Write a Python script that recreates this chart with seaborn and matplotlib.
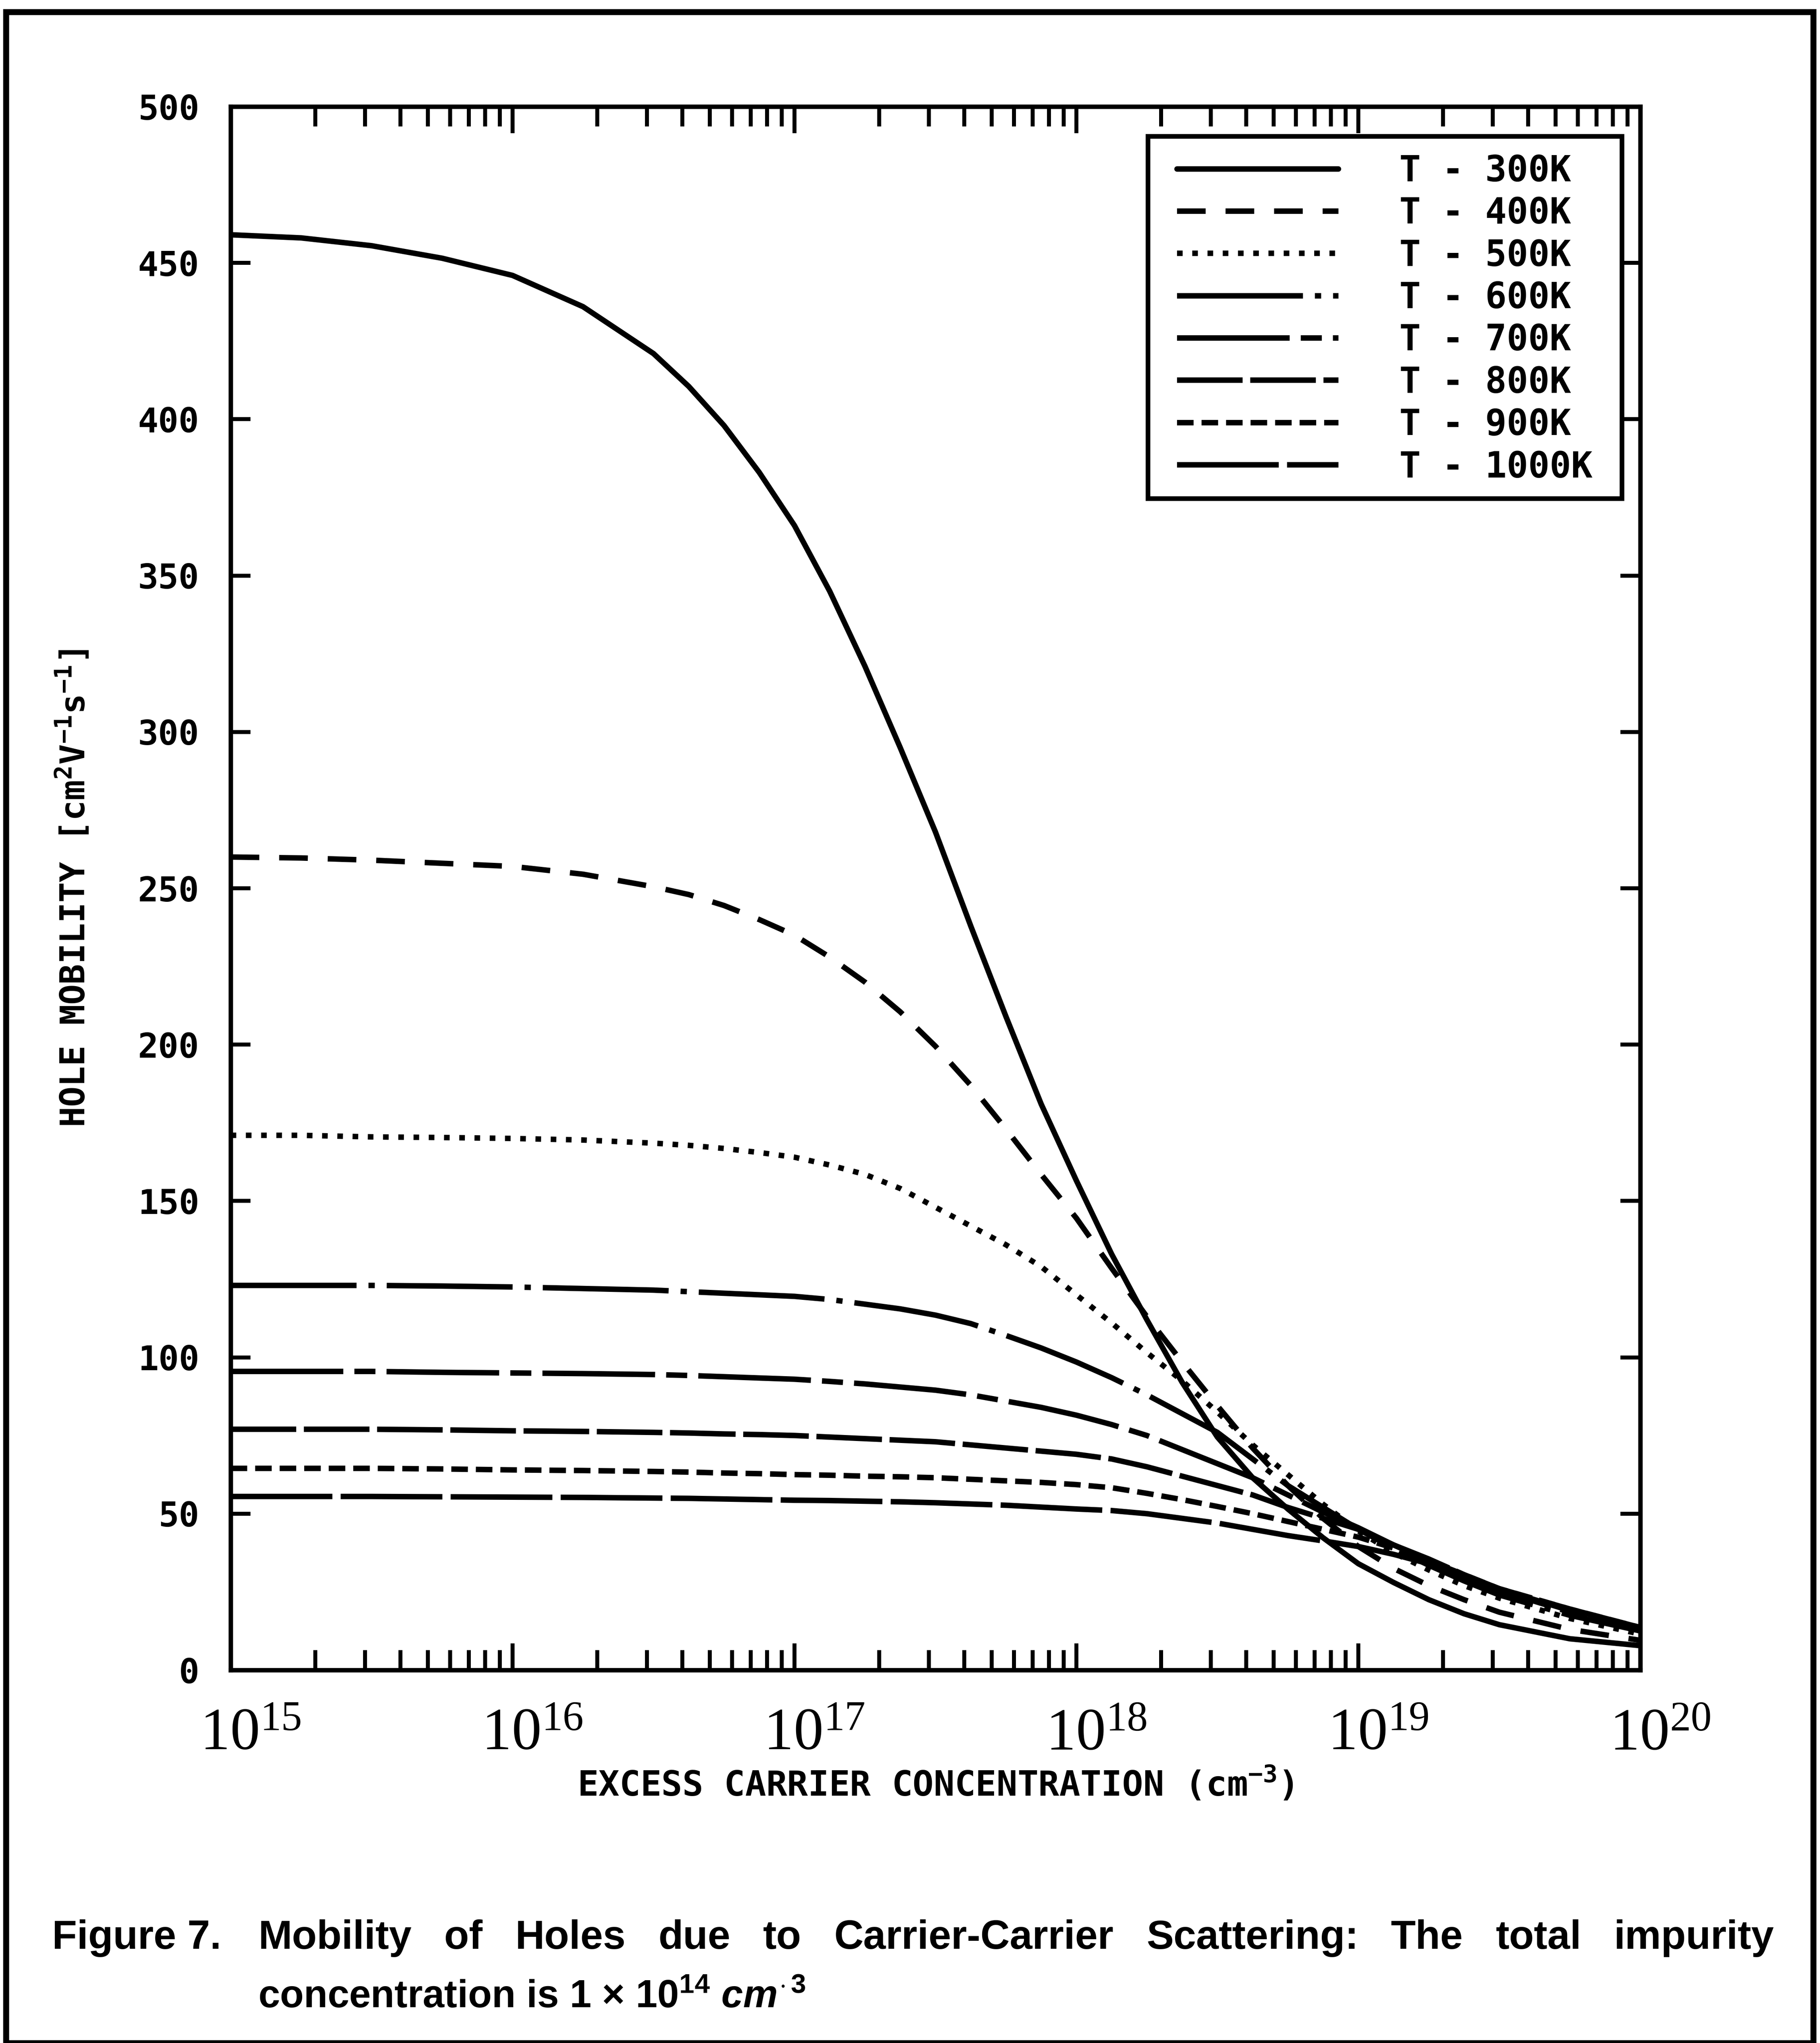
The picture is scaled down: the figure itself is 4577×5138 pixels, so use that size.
import numpy as np
import pandas as pd
import matplotlib
matplotlib.use("Agg")
import matplotlib.pyplot as plt
import matplotlib.ticker as mticker
from matplotlib.patches import Rectangle
from matplotlib.transforms import ScaledTranslation
import seaborn as sns

# exponent of the excess carrier concentration (cm^-3)
log_conc = [15.0, 15.25, 15.5, 15.75, 16.0, 16.25, 16.5, 16.625, 16.75, 16.875,
            17.0, 17.125, 17.25, 17.375, 17.5, 17.625, 17.75, 17.875, 18.0,
            18.125, 18.25, 18.375, 18.5, 18.625, 18.75, 18.875, 19.0, 19.125,
            19.25, 19.375, 19.5, 19.75, 20.0]

# hole mobility (cm^2 V^-1 s^-1) for each lattice temperature
mu_300 = [459, 458, 455.5, 451.5, 446, 436, 421, 410.5, 398, 383,
          366, 345, 321, 295, 268, 238, 209, 181, 156.5,
          133, 112, 92, 74.5, 61.5, 51.5, 42.3, 34, 28,
          22.5, 18, 14.5, 10, 7.8]
mu_400 = [260, 259.7, 259, 258, 257, 254.5, 250.5, 248, 244.5, 240,
          235, 228, 220, 210.5, 199.5, 187, 173, 158.5, 144.5,
          128.5, 113, 98.5, 84.5, 71, 59, 48.5, 39.5, 32.5,
          27, 22.5, 18.5, 13, 9.5]
mu_500 = [171, 171, 170.5, 170.3, 170, 169.5, 168.5, 167.8, 166.8, 165.5,
          164, 161.5, 158.5, 154, 148, 142, 136, 129, 120,
          111, 101.5, 92.5, 82.5, 72, 62.5, 53, 44.5, 37.5,
          32, 27, 23, 16.5, 11.5]
mu_600 = [123, 123, 123, 122.8, 122.5, 122, 121.5, 121, 120.5, 120,
          119.5, 118.5, 117, 115.5, 113.5, 110.8, 107, 103, 98.5,
          93.5, 88, 82, 76, 67.5, 59, 52, 45, 39,
          33.5, 28.5, 24, 17.5, 12.5]
mu_700 = [95.5, 95.5, 95.5, 95.2, 95, 94.8, 94.5, 94.2, 93.8, 93.4,
          93, 92.3, 91.5, 90.5, 89.5, 88, 86, 84, 81.5,
          78.5, 75, 70.5, 66, 61.5, 56, 50.5, 45.5, 40,
          35, 30, 25.5, 18.5, 13]
mu_800 = [77, 77, 77, 76.8, 76.5, 76.3, 76, 75.8, 75.5, 75.3,
          75, 74.5, 74, 73.5, 73, 72, 71, 70, 69,
          67.5, 65, 62, 59, 56, 52, 48.5, 45, 40,
          35.5, 30.5, 26, 19, 13.3]
mu_900 = [64.5, 64.5, 64.5, 64.3, 64, 63.8, 63.5, 63.3, 63, 62.8,
          62.5, 62.3, 62, 61.8, 61.5, 61, 60.5, 60, 59.3,
          58.3, 56.5, 54.5, 52.3, 50, 47.5, 45, 42.5, 39,
          35, 30.5, 26, 19.5, 13.6]
mu_1000 = [55.5, 55.5, 55.5, 55.4, 55.3, 55.2, 55, 54.9, 54.7, 54.5,
           54.3, 54.2, 54, 53.8, 53.5, 53.1, 52.7, 52.1, 51.5,
           51, 50, 48.5, 47, 45, 43, 41.3, 39.5, 37,
           34, 30, 26, 19.5, 13.6]

temperatures = ["300K", "400K", "500K", "600K", "700K", "800K", "900K", "1000K"]
series = [mu_300, mu_400, mu_500, mu_600, mu_700, mu_800, mu_900, mu_1000]

# plotter-style line patterns (on/off lengths in points)
patterns = {
    "300K": "-",
    "400K": (0, (17.3, 12.0)),
    "500K": (0, (3.4, 5.8)),
    "600K": (0, (76.0, 7.2, 3.8, 7.2)),
    "700K": (0, (68.0, 6.7, 12.7, 6.7)),
    "800K": (0, (39.6, 4.6)),
    "900K": (0, (10.0, 4.8)),
    "1000K": (0, (61.4, 5.0)),
}

x_decades = [15, 16, 17, 18, 19, 20]
y_ticks = [0, 50, 100, 150, 200, 250, 300, 350, 400, 450, 500]

rows = []
for temp, mu in zip(temperatures, series):
    for lg, m in zip(log_conc, mu):
        rows.append({"T": temp, "N": 10.0 ** lg, "mu": m})
df = pd.DataFrame(rows)

sns.set_theme(style="ticks")
mono = ["DejaVu Sans Mono", "DejaVu Sans"]
plt.rcParams.update({
    "font.family": mono,
    "font.weight": "bold",
    "lines.scale_dashes": False,
    "axes.linewidth": 2.7,
    "axes.edgecolor": "black",
    "axes.facecolor": "white",
    "figure.facecolor": "white",
    "text.color": "black",
    "axes.labelcolor": "black",
    "xtick.color": "black",
    "ytick.color": "black",
    "xtick.direction": "in",
    "ytick.direction": "in",
    "xtick.top": True,
    "ytick.right": True,
    "mathtext.fontset": "custom",
    "mathtext.rm": "Liberation Sans:bold",
    "mathtext.it": "Liberation Sans:italic",
    "mathtext.bf": "Liberation Sans:bold",
})

W, H, DPI = 4577, 5138, 300
fig = plt.figure(figsize=(W / DPI, H / DPI), dpi=DPI)
ax_left, ax_right, ax_top, ax_bottom = 580, 4125, 268, 4200
ax = fig.add_axes([ax_left / W, 1 - ax_bottom / H,
                   (ax_right - ax_left) / W, (ax_bottom - ax_top) / H])


def fig_xy(px, py):
    """Pixel position measured from the top-left corner -> figure fraction."""
    return px / W, 1 - py / H


for temp in temperatures:
    sub = df[df["T"] == temp]
    sns.lineplot(data=sub, x="N", y="mu", ax=ax, color="black",
                 linewidth=3.3, linestyle=patterns[temp],
                 label=f"T - {temp}", sort=True, estimator=None)

ax.set_xscale("log")
ax.set_xlim(1e15, 1e20)
ax.set_ylim(0, 500)

# ticks
ax.xaxis.set_major_locator(mticker.FixedLocator([10.0 ** d for d in x_decades]))
ax.xaxis.set_minor_locator(mticker.LogLocator(base=10, subs=np.arange(2, 10), numticks=50))
ax.xaxis.set_minor_formatter(mticker.NullFormatter())
ax.set_xticklabels([rf"$\mathregular{{10^{{{d}}}}}$" for d in x_decades],
                   fontfamily="Liberation Serif", fontweight="normal", fontsize=36)
ax.set_yticks(y_ticks)
ax.set_yticklabels([str(v) for v in y_ticks], fontsize=20.5, fontweight="bold")
ax.tick_params(axis="x", which="major", length=16, width=2.4, pad=23,
               top=True, bottom=True)
ax.tick_params(axis="x", which="minor", length=12, width=2.4, top=True, bottom=True)
ax.tick_params(axis="y", which="major", length=12, width=2.4, pad=19,
               left=True, right=True)
ax.tick_params(axis="y", which="minor", left=False, right=False)

shift = ScaledTranslation(50 / DPI, 0, fig.dpi_scale_trans)
for lab in ax.get_xticklabels():
    lab.set_transform(lab.get_transform() + shift)

for side in ["top", "right", "left", "bottom"]:
    ax.spines[side].set_visible(True)
    ax.spines[side].set_linewidth(2.7)

ax.set_xlabel(r"EXCESS CARRIER CONCENTRATION (cm$\mathregular{^{-3}}$)",
              fontsize=21, fontweight="bold", fontfamily=mono)
ax.xaxis.set_label_coords(0.5, -0.061)
ax.set_ylabel(r"HOLE MOBILITY [cm$\mathregular{^{2}}$V$\mathregular{^{-1}}$s$\mathregular{^{-1}}$]",
              fontsize=20.5, fontweight="bold", fontfamily=mono)
ax.yaxis.set_label_coords(-0.098, 0.5)
ax.grid(False)

# legend entries, with a separately drawn box around them
leg = ax.legend(loc="upper left", bbox_to_anchor=fig_xy(2960, 387),
                bbox_transform=fig.transFigure,
                borderaxespad=0, frameon=False, borderpad=0,
                handlelength=4.53, handletextpad=1.71, labelspacing=0.205,
                prop={"family": mono, "weight": "bold", "size": 21.5})
bx0, by0 = fig_xy(2887, 1254)
bx1, by1 = fig_xy(4079, 343)
fig.patches.append(Rectangle((bx0, by0), bx1 - bx0, by1 - by0,
                             transform=fig.transFigure, fill=False,
                             edgecolor="black", linewidth=2.8, zorder=5))

# page frame around the whole figure
fig.patches.append(Rectangle((15 / W, 0.0), (4560 - 15) / W, 1 - 30 / H,
                             transform=fig.transFigure, fill=False,
                             edgecolor="black", linewidth=3.6, zorder=10))

# caption, first line justified between the hanging indent and the right margin
cap_size = 24.5
cap_font = {"family": "Liberation Sans", "weight": "bold", "size": cap_size}
base1 = 1 - 4901 / H
fig.text(131 / W, base1, "Figure 7.", va="baseline", ha="left", fontdict=cap_font)
words = ["Mobility", "of", "Holes", "due", "to", "Carrier-Carrier",
         "Scattering:", "The", "total", "impurity"]
renderer = fig.canvas.get_renderer()
texts = [fig.text(0, base1, w, va="baseline", ha="left", fontdict=cap_font) for w in words]
widths = [t.get_window_extent(renderer).width for t in texts]
start, end = 649, 4462
gap = (end - start - sum(widths)) / (len(words) - 1)
xpos = start
for t, w in zip(texts, widths):
    t.set_x(xpos / W)
    xpos += w + gap

base2 = 1 - 5049 / H
fig.text(649 / W, base2, r"concentration is 1 $\times$ 10$^{14}$ $\mathit{cm}^{\cdot\,3}$",
         va="baseline", ha="left", fontdict=dict(cap_font, size=23.5))

fig.savefig("out.png", dpi=DPI, facecolor="white")
